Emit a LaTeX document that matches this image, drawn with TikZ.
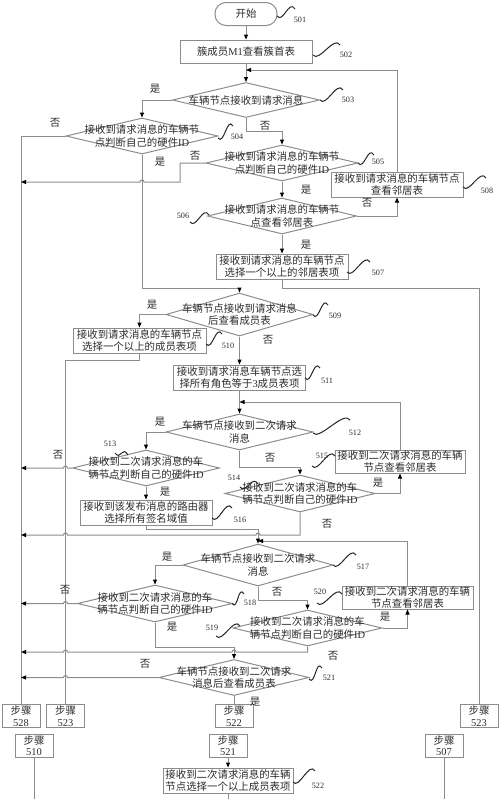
\documentclass[tikz,border=0pt]{standalone}
\usepackage{fontspec}
\setmainfont{Liberation Serif}
\newfontfamily\cjk{Noto Sans CJK SC}
\usetikzlibrary{shapes.geometric,arrows.meta}

\definecolor{linegray}{HTML}{8C8C8C}
\definecolor{inkgray}{HTML}{2B2B2B}
\newcommand{\px}{0.3mm}
\newcommand{\romtext}[1]{{\rmfamily #1}}
% wavy leader line and its step number
\newcommand{\steptag}[5]{%
  \draw[lead] (#1) .. controls +(6,8) and +(-6,-10) .. (#2);
  \node[num] (#5) at (#3) {#4};}

\tikzset{
  txt/.style={font=\cjk\fontsize{8.9}{11}\selectfont, text=inkgray, align=center, inner sep=0pt},
  proc/.style 2 args={draw=linegray, rectangle, minimum width=#1*\px, minimum height=#2*\px, txt},
  dec/.style 2 args={draw=linegray, diamond, minimum width=#1*\px, minimum height=#2*\px, inner sep=0pt},
  term/.style={draw=linegray, rectangle, rounded corners=3.3mm, minimum width=62*\px, minimum height=23*\px, txt},
  stepbox/.style={proc={38}{23}, font=\cjk\fontsize{8.9}{9.8}\selectfont},
  yn/.style={txt},
  num/.style={font=\fontsize{7}{8}\selectfont, text=inkgray, inner sep=0pt},
  lead/.style={draw=black!85, line width=0.3mm},
  wire/.style={draw=linegray, line width=0.3mm},
  flow/.style={wire, ->},
}

\begin{document}
\begin{tikzpicture}[x=0.3mm, y=-0.3mm, line width=0.3mm,
    >={Triangle[length=1.5mm,width=1.2mm,color=black]}]
    \useasboundingbox (0,0) rectangle (500,799);

    % upper part: request message
    \node[term] (n501) at (246,14) {开始};
    \node[proc={132}{23}] (n502) at (246,51.5) {簇成员\romtext{M1}查看簇首表};
    \node[dec={147}{35}, label={[txt]center:车辆节点接收到请求消息}] (n503) at (246,100) {};
    \node[dec={152}{36}, label={[txt]center:{接收到请求消息的车辆节\\点判断自己的硬件\romtext{ID}}}] (n504) at (142,136) {};
    \node[dec={152}{36}, label={[txt]center:{接收到请求消息的车辆节\\点判断自己的硬件\romtext{ID}}}] (n505) at (282,163) {};
    \node[dec={149}{36}, label={[txt]center:{接收到请求消息的车辆节\\点查看邻居表}}] (n506) at (282,216) {};
    \node[proc={132}{25}] (n507) at (282,266.5) {接收到请求消息的车辆节点\\选择一个以上的邻居表项};
    \node[proc={132}{25}] (n508) at (397,184.5) {接收到请求消息的车辆节点\\查看邻居表};
    \node[dec={147}{43}, label={[txt]center:{车辆节点接收到请求消息\\后查看成员表}}] (n509) at (239.5,314.5) {};
    \node[proc={133}{25}] (n510) at (139.5,340.5) {接收到请求消息的车辆节点\\选择一个以上的成员表项};
    \node[proc={132}{25}] (n511) at (239.5,377.5) {接收到请求消息车辆节点选\\择所有角色等于\romtext{3}成员表项};

    % middle part: second request
    \node[dec={147}{36}, label={[txt]center:{车辆节点接收到二次请求\\消息}}] (n512) at (239.5,432) {};
    \node[dec={147}{36}, label={[txt]center:{接收到二次请求消息的车\\辆节点判断自己的硬件\romtext{ID}}}] (n513) at (146,468) {};
    \node[dec={150}{37}, label={[txt]center:{接收到二次请求消息的车\\辆节点判断自己的硬件\romtext{ID}}}] (n514) at (300,493.5) {};
    \node[proc={130}{23}] (n515) at (400,461.5) {接收到二次请求消息的车辆\\节点查看邻居表};
    \node[proc={132}{25}] (n516) at (146,512.5) {接收到该发布消息的路由器\\选择所有签名域值};
    \node[dec={150}{42}, label={[txt]center:{车辆节点接收到二次请求\\消息}}] (n517) at (258,565) {};
    \node[dec={155}{37}, label={[txt]center:{接收到二次请求消息的车\\辆节点判断自己的硬件\romtext{ID}}}] (n518) at (155,603.5) {};
    \node[dec={149}{36}, label={[txt]center:{接收到二次请求消息的车\\辆节点判断自己的硬件\romtext{ID}}}] (n519) at (307.5,628) {};
    \node[proc={131}{23}] (n520) at (407.5,597.5) {接收到二次请求消息的车辆\\节点查看邻居表};
    \node[dec={150}{36}, label={[txt]center:{车辆节点接收到二次请求\\消息后查看成员表}}] (n521) at (234,677.5) {};

    % step references
    \node[stepbox] (b528) at (21,716) {步骤\\\romtext{528}};
    \node[stepbox] (b523a) at (65.5,716) {步骤\\\romtext{523}};
    \node[stepbox] (b522) at (234,716) {步骤\\\romtext{522}};
    \node[stepbox] (b523b) at (479,716) {步骤\\\romtext{523}};
    \node[stepbox] (b510) at (34,745.5) {步骤\\\romtext{510}};
    \node[stepbox] (b521) at (228,745.5) {步骤\\\romtext{521}};
    \node[stepbox] (b507) at (444,745.5) {步骤\\\romtext{507}};
    \node[proc={130}{25}] (n522) at (228,780.5) {接收到二次请求消息的车辆\\节点选择一个以上成员表项};

    \coordinate (r70) at (246,70);
    \coordinate (r402) at (239.5,402);
    \coordinate (r541) at (258,541);
    \coordinate (e510) at (34,799);
    \coordinate (e521) at (228,799);
    \coordinate (e507) at (444,799);

    % connectors
    \draw[flow] (n501.south) -- (n502.north);
    \draw[flow] (n502.south) -- (n503.north);
    \draw[flow] (n508.north) |- (r70);
    \draw[flow] (n503.west) -| (n504.north);
    \draw[flow] (n503.south) -- (246,131) -| (n505.north);
    \draw[wire] (n504.west) -| (b528.north);
    \draw[flow] (n504.south) -- (142,288) -| (n509.north);
    \draw[flow] (n505.west) -- (180,163) -- (180,182) -- (144,182)
        arc[start angle=0, end angle=180, radius=0.6mm] -- (21,182);
    \draw[flow] (n505.south) -- (n506.north);
    \draw[flow] (n506.east) -| (n508.south);
    \draw[flow] (n506.south) -- (n507.north);
    \draw[wire] (n507.south) -- (282,288) -| (b523b.north);
    \draw[flow] (n509.west) -| (n510.north);
    \draw[wire] (n510.south) -- (139.5,360) -| (b523a.north);
    \draw[flow] (n509.south) -- (n511.north);
    \draw[flow] (n511.south) -- (n512.north);
    \draw[flow] (n515.north) |- (r402);
    \draw[flow] (n512.west) -| (n513.north);
    \draw[flow] (n512.south) -- (239.5,467) -| (n514.north);
    \draw[flow] (n513.west) -- (67.5,468)
        arc[start angle=0, end angle=180, radius=0.6mm] -- (21,468);
    \draw[flow] (n513.south) -- (n516.north);
    \draw[flow] (n514.east) -| (n515.south);
    \draw[flow] (n514.south) -- (300,535) -- (260,535)
        arc[start angle=0, end angle=180, radius=0.6mm] -- (67.5,535)
        arc[start angle=0, end angle=180, radius=0.6mm] -- (21,535);
    \draw[flow] (n516.south) -- (146,529) -| (n517.north);
    \draw[flow] (n520.north) |- (r541);
    \draw[flow] (n517.west) -| (n518.north);
    \draw[flow] (n517.south) -- (258,600) -| (n519.north);
    \draw[flow] (n518.west) -- (67.5,603.5)
        arc[start angle=0, end angle=180, radius=0.6mm] -- (21,603.5);
    \draw[flow] (n518.south) -- (155,647) -| (n521.north);
    \draw[flow] (n519.east) -| (n520.south);
    \draw[flow] (n519.south) -- (307.5,652) -- (236,652)
        arc[start angle=0, end angle=180, radius=0.6mm] -- (67.5,652)
        arc[start angle=0, end angle=180, radius=0.6mm] -- (21,652);
    \draw[flow] (n521.west) -- (67.5,677.5)
        arc[start angle=0, end angle=180, radius=0.6mm] -- (21,677.5);
    \draw[wire] (n521.south) -- (b522.north);
    \draw[flow] (b521.south) -- (n522.north);
    \draw[wire] (b510.south) -- (e510);
    \draw[wire] (n522.south) -- (e521);
    \draw[wire] (b507.south) -- (e507);

    % yes / no labels
    \node[yn] (y503) at (155,89) {是};
    \node[yn] (o503) at (265,126) {否};
    \node[yn] (o504) at (55,123) {否};
    \node[yn] (y504) at (160,162) {是};
    \node[yn] (o505) at (195,156) {否};
    \node[yn] (y505) at (306,190) {是};
    \node[yn] (o506) at (367,203) {否};
    \node[yn] (y506) at (306,245) {是};
    \node[yn] (y509) at (152,305) {是};
    \node[yn] (o509) at (268,340) {否};
    \node[yn] (y512) at (160,422) {是};
    \node[yn] (o512) at (270,458) {否};
    \node[yn] (o513) at (58,455) {否};
    \node[yn] (y513) at (165,492) {是};
    \node[yn] (y514) at (378,483) {是};
    \node[yn] (o514) at (327,524) {否};
    \node[yn] (y517) at (167,557) {是};
    \node[yn] (o517) at (277,592) {否};
    \node[yn] (o518) at (65,590) {否};
    \node[yn] (y518) at (172,627) {是};
    \node[yn] (y519) at (385,617) {是};
    \node[yn] (o519) at (333,656) {否};
    \node[yn] (o521) at (145,664) {否};
    \node[yn] (y521) at (255,702) {是};

    % step numbers
    \steptag{277,16}{295,9}{300,20}{501}{t501}
    \steptag{313,55}{340,45}{346,55}{502}{t502}
    \steptag{320,100}{343,90}{348,100}{503}{t503}
    \steptag{218,138}{233,126}{237,137}{504}{t504}
    \steptag{358,163}{374,155}{378,162}{505}{t505}
    \steptag{190,222}{209,215}{183,216}{506}{t506}
    \steptag{347,272}{370,262}{378,273}{507}{t507}
    \steptag{463,187}{486,178}{487,191}{508}{t508}
    \steptag{313,315}{328,305}{335,316}{509}{t509}
    \steptag{206,344}{222,334}{228,346}{510}{t510}
    \steptag{305,378}{320,368}{327,381}{511}{t511}
    \steptag{313,433}{350,420}{355,433}{512}{t512}
    \steptag{115,453}{128,455}{110,444}{513}{t513}
    \steptag{240,487}{258,484}{234,478}{514}{t514}
    \steptag{312,466}{335,456}{322,456}{515}{t515}
    \steptag{212,518}{232,508}{240,520}{516}{t516}
    \steptag{333,565}{356,555}{363,567}{517}{t517}
    \steptag{232,603.5}{244,594}{250,603}{518}{t518}
    \steptag{216,636}{240,626}{212,628}{519}{t519}
    \steptag{317,603}{342,594}{320,592}{520}{t520}
    \steptag{309,679}{322,668}{329,678}{521}{t521}
    \steptag{293,782}{315,771}{318,786}{522}{t522}
\end{tikzpicture}
\end{document}
